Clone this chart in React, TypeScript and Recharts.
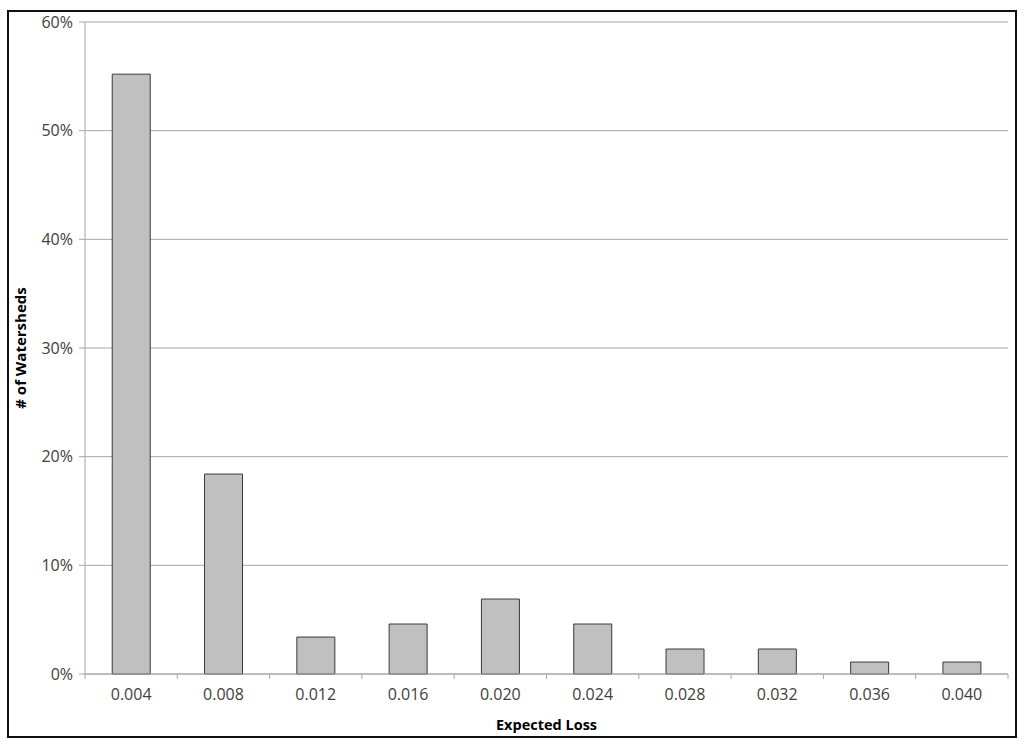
import { BarChart, Bar, XAxis, YAxis, CartesianGrid, Label } from 'recharts'

const categories = ['0.004', '0.008', '0.012', '0.016', '0.020', '0.024', '0.028', '0.032', '0.036', '0.040']
const shares = [55.2, 18.4, 3.4, 4.6, 6.9, 4.6, 2.3, 2.3, 1.1, 1.1]
const yTicks = [0, 10, 20, 30, 40, 50, 60]

const data = categories.map((name, i) => ({ name, value: shares[i] }))

const W = 1024
const H = 746
const margin = { top: 22, right: 16, left: 25, bottom: 22 }
const yAxisWidth = 60
const plotLeft = margin.left + yAxisWidth
const plotRight = W - margin.right
const band = (plotRight - plotLeft) / categories.length

const font = '"Open Sans", "Liberation Sans", sans-serif'
const textColor = '#404040'
const axisColor = '#a6a6a6'

// category ticks sit between bars, like Excel
// eslint-disable-next-line @typescript-eslint/no-explicit-any
function XTick({ x, y, payload, index }: any) {
  const left = x - band / 2
  const top = y - 8
  return (
    <g>
      <line x1={left} x2={left} y1={top} y2={top + 5} stroke={axisColor} />
      {index === categories.length - 1 && (
        <line x1={x + band / 2} x2={x + band / 2} y1={top} y2={top + 5} stroke={axisColor} />
      )}
      <text x={x} y={y + 18} textAnchor="middle" fill={textColor} fontSize={16} fontFamily={font}>
        {payload.value}
      </text>
    </g>
  )
}

export default function App() {
  return (
    <div style={{ position: 'absolute', left: 0, top: 0, width: W, height: H, background: '#fff' }}>
      <div
        style={{
          position: 'absolute', left: 7, top: 10, width: 1006, height: 724,
          border: '2px solid #111', boxSizing: 'content-box',
        }}
      />
      <div style={{ position: 'absolute', left: 0, top: 0 }}>
        <BarChart width={W} height={H} data={data} margin={margin} barCategoryGap="29.5%">
          <CartesianGrid vertical={false} stroke={axisColor} />
          <XAxis
            dataKey="name"
            height={50}
            stroke={axisColor}
            tickLine={false}
            tick={<XTick />}
            interval={0}
          >
            <Label
              value="Expected Loss"
              position="insideBottom"
              offset={-6}
              style={{ fontFamily: font, fontSize: 14.5, fontWeight: 700, fill: '#000' }}
            />
          </XAxis>
          <YAxis
            domain={[0, 60]}
            ticks={yTicks}
            width={yAxisWidth}
            stroke={axisColor}
            tickSize={6}
            tickMargin={6}
            tickFormatter={(v: number) => `${v}%`}
            tick={{ fontSize: 16, fill: textColor, fontFamily: font }}
            interval={0}
          >
            <Label
              value="# of Watersheds"
              angle={-90}
              position="insideLeft"
              offset={-4}
              style={{ fontFamily: font, fontSize: 15, fontWeight: 700, fill: '#000', textAnchor: 'middle' }}
            />
          </YAxis>
          <Bar dataKey="value" fill="#c0c0c0" stroke="#3a3a3a" strokeWidth={1} isAnimationActive={false} />
        </BarChart>
      </div>
    </div>
  )
}
